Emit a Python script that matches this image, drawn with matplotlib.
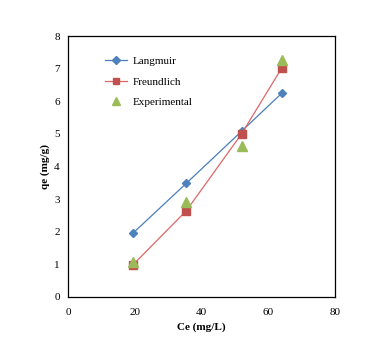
import matplotlib
matplotlib.use("Agg")
from matplotlib import pyplot as plt

ce = [19.5, 35.5, 52.0, 64.0]
langmuir = [1.96, 3.49, 5.08, 6.24]
freundlich = [0.99, 2.65, 5.0, 7.01]
experimental = [1.08, 2.92, 4.63, 7.27]

plt.rcParams['font.family'] = ['Liberation Serif', 'DejaVu Serif']

fig = plt.figure(figsize=(3.83, 3.53), dpi=100)
ax = fig.add_axes([68/383, 1-297/353, (335-68)/383, (297-36)/353])

ax.plot(ce, langmuir, color='#4a7ebb', marker='D', markersize=4.5, linewidth=0.9,
        label='Langmuir', markerfacecolor='#4f81bd', markeredgecolor='#4f81bd')
ax.plot(ce, freundlich, color='#e06666', marker='s', markersize=5.5, linewidth=0.9,
        label='Freundlich', markerfacecolor='#c0504d', markeredgecolor='#c0504d')
ax.plot(ce, experimental, linestyle='none', marker='^', markersize=7,
        label='Experimental', markerfacecolor='#9bbb59', markeredgecolor='#9bbb59')

ax.set_xlim(0, 80)
ax.set_ylim(0, 8)
ax.set_xticks([0, 20, 40, 60, 80])
ax.set_yticks(range(0, 9))
ax.tick_params(axis='x', length=0, labelsize=8, pad=8)
ax.tick_params(axis='y', length=0, labelsize=8, pad=6)
for s in ax.spines.values():
    s.set_linewidth(0.9)

ax.set_xlabel('Ce (mg/L)', fontsize=8, fontweight='bold', labelpad=4)
ax.set_ylabel('qe (mg/g)', fontsize=8, fontweight='bold', labelpad=3)

leg = ax.legend(loc='upper left', bbox_to_anchor=(0.1, 0.96), frameon=False, fontsize=8,
                handlelength=2.0, labelspacing=0.95, handletextpad=0.5, markerscale=0.8)

fig.savefig('out.png', dpi=100)
